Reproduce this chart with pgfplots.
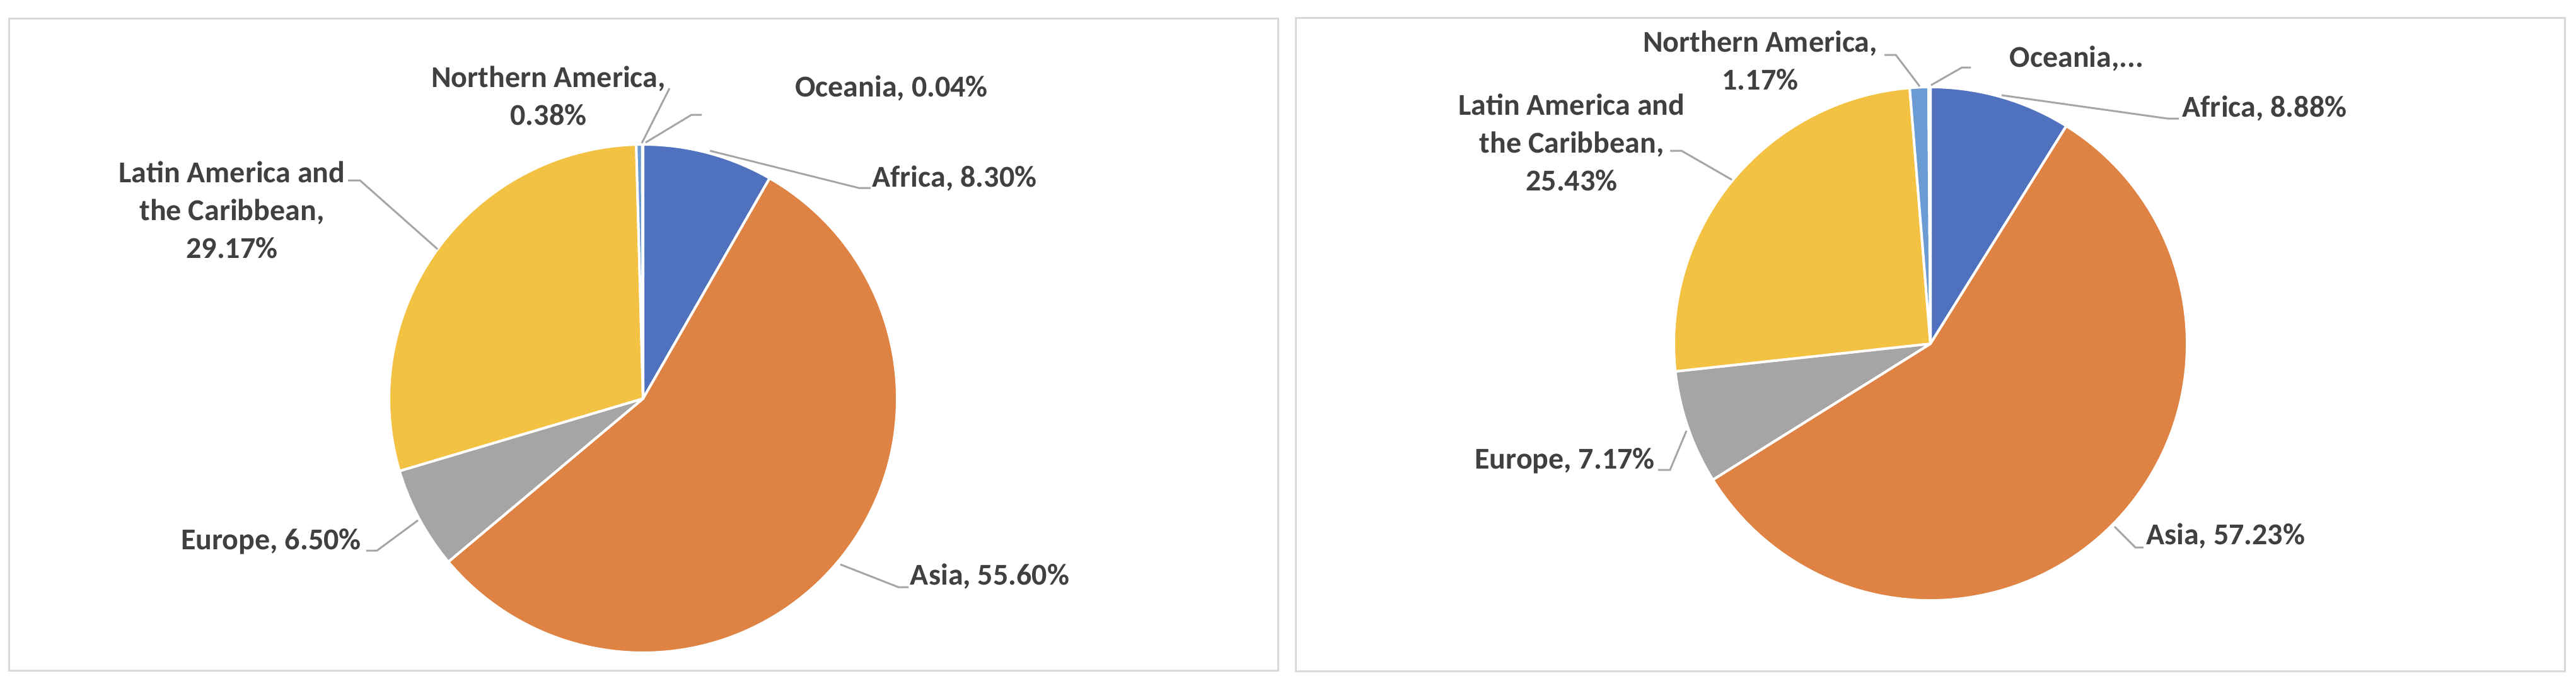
\documentclass[border=0pt]{standalone}
\usepackage{pgfplots}
\pgfplotsset{compat=1.18}
\usepackage{pgfplotstable}
\usepackage{fontspec}
\setmainfont{Carlito}

\definecolor{c0}{HTML}{4F71BE}
\definecolor{c1}{HTML}{DE8344}
\definecolor{c2}{HTML}{A5A5A5}
\definecolor{c3}{HTML}{F3C243}
\definecolor{c4}{HTML}{6A9BD3}
\definecolor{c5}{HTML}{70AD47}
\definecolor{txt}{HTML}{404040}
\definecolor{lead}{HTML}{A6A6A6}
\definecolor{frame}{HTML}{D9D9D9}

% shares in percent, clockwise from 12 o'clock
\pgfplotstableread{
region share
Africa 8.30
Asia 55.60
Europe 6.50
LatinAmerica 29.17
NorthernAmerica 0.38
Oceania 0.04
}\tabL
\pgfplotstableread{
region share
Africa 8.88
Asia 57.23
Europe 7.17
LatinAmerica 25.43
NorthernAmerica 1.17
Oceania 0.12
}\tabR

% start/end angle of every slice, kept in global macros
\newcommand\setpie[2]{%
  \gdef\cum{0}%
  \pgfplotstableforeachcolumnelement{share}\of#1\as\val{%
    \pgfmathsetmacro\sa{90-3.6*\cum}%
    \pgfmathsetmacro\ea{90-3.6*(\cum+\val)}%
    \expandafter\xdef\csname #2s\pgfplotstablerow\endcsname{\sa}%
    \expandafter\xdef\csname #2e\pgfplotstablerow\endcsname{\ea}%
    \pgfmathsetmacro\nc{\cum+\val}\xdef\cum{\nc}%
  }}
\setpie{\tabL}{L}
\setpie{\tabR}{R}

\begin{document}
\begin{tikzpicture}
\begin{axis}[
    width=1021.5pt, height=270.5pt, scale only axis,
    xmin=0, xmax=4086, ymin=0, ymax=1082, y dir=reverse,
    hide axis, clip=false,
  ]
  \path (axis cs:0,0) rectangle (axis cs:4086,1082);
  \draw[frame, line width=0.75pt] (axis cs:14,29) rectangle (axis cs:2027,1063);
  \draw[frame, line width=0.75pt] (axis cs:2055,28) rectangle (axis cs:4068,1064);

  % left pie
  \pgfplotsinvokeforeach{0,...,5}{
    \fill[fill=c#1, draw=white, line width=1pt, line join=round]
      (axis cs:1020,632) -- ++(\csname Ls#1\endcsname:100.75pt)
      arc[start angle=\csname Ls#1\endcsname, end angle=\csname Le#1\endcsname, radius=100.75pt] -- cycle;
  }
  % right pie
  \pgfplotsinvokeforeach{0,...,5}{
    \fill[fill=c#1, draw=white, line width=1pt, line join=round]
      (axis cs:3062,545) -- ++(\csname Rs#1\endcsname:101.75pt)
      arc[start angle=\csname Rs#1\endcsname, end angle=\csname Re#1\endcsname, radius=101.75pt] -- cycle;
  }

  \tikzset{lbl/.style={text=txt, font=\fontsize{12}{15}\selectfont\bfseries, align=center, inner sep=0pt},
           ld/.style={draw=lead, line width=0.75pt}}

  % left labels
  \draw[ld] (axis cs:1018,227) -- (axis cs:1062,140);
  \node[lbl] at (axis cs:870,152) {Northern America,\\0.38\%};
  \draw[ld] (axis cs:1024,226) -- (axis cs:1097,182) -- (axis cs:1113,182);
  \node[lbl] at (axis cs:1414,140) {Oceania, 0.04\%};
  \draw[ld] (axis cs:1126,239) -- (axis cs:1362,298) -- (axis cs:1381,298);
  \node[lbl] at (axis cs:1514,283) {Africa, 8.30\%};
  \draw[ld] (axis cs:552,286) -- (axis cs:571,286) -- (axis cs:694,395);
  \node[lbl] at (axis cs:368,333) {Latin America and\\the Caribbean,\\29.17\%};
  \draw[ld] (axis cs:581,873) -- (axis cs:598,873) -- (axis cs:663,825);
  \node[lbl] at (axis cs:430,859) {Europe, 6.50\%};
  \draw[ld] (axis cs:1333,895) -- (axis cs:1425,931) -- (axis cs:1441,931);
  \node[lbl] at (axis cs:1570,914) {Asia, 55.60\%};

  % right labels
  \draw[ld] (axis cs:2989,87) -- (axis cs:3007,87) -- (axis cs:3045,137);
  \node[lbl] at (axis cs:2792,96) {Northern America,\\1.17\%};
  \draw[ld] (axis cs:3063,135) -- (axis cs:3112,107) -- (axis cs:3126,107);
  \node[lbl] at (axis cs:3294,93) {Oceania,...};
  \draw[ld] (axis cs:3175,151) -- (axis cs:3438,188) -- (axis cs:3456,188);
  \node[lbl] at (axis cs:3592,172) {Africa, 8.88\%};
  \draw[ld] (axis cs:2649,239) -- (axis cs:2667,239) -- (axis cs:2747,285);
  \node[lbl] at (axis cs:2493,226) {Latin America and\\the Caribbean,\\25.43\%};
  \draw[ld] (axis cs:2630,745) -- (axis cs:2649,745) -- (axis cs:2675,683);
  \node[lbl] at (axis cs:2482,731) {Europe, 7.17\%};
  \draw[ld] (axis cs:3354,835) -- (axis cs:3387,868) -- (axis cs:3400,868);
  \node[lbl] at (axis cs:3530,850) {Asia, 57.23\%};
\end{axis}
\end{tikzpicture}
\end{document}
